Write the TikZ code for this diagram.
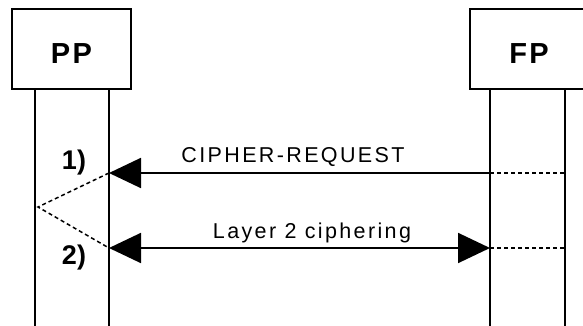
\documentclass[tikz,border=0pt]{standalone}
\usepackage{fontspec}
\setmainfont{Liberation Sans}
\usetikzlibrary{arrows.meta}
\begin{document}
\begin{tikzpicture}[x=1pt, y=-1pt,
	entity/.style={shape=rectangle, draw, line width=2pt, minimum width=119pt, minimum height=80pt, text height=30pt, text depth=0pt, font=\fontsize{29}{33}\selectfont\bfseries\addfontfeature{LetterSpace=8}},
	life/.style={line width=1.8pt},
	msg/.style={line width=1.9pt, -{Triangle[length=32pt, width=30pt]}},
	twoway/.style={line width=1.9pt, {Triangle[length=32pt, width=30pt]}-{Triangle[length=32pt, width=30pt]}},
	link/.style={line width=1.5pt, dash pattern=on 4pt off 3pt},
	msglabel/.style={anchor=base, inner sep=0pt, font=\fontsize{21.5}{25}\selectfont\addfontfeature{LetterSpace=11}},
	steplabel/.style={anchor=base, inner sep=0pt, font=\fontsize{27}{31}\selectfont\bfseries}]
	\useasboundingbox (0,0) rectangle (583,326);
	% entities and their lifelines
	\node[entity] (pp) at (71.5, 49) {PP};
	\node[entity] (fp) at (529, 49) {FP};
	\coordinate (ppA) at (35, 326);
	\coordinate (ppB) at (109, 326);
	\coordinate (fpA) at (490, 326);
	\coordinate (fpB) at (565, 326);
	\draw[life] (pp.south -| ppA) -- (ppA);
	\draw[life] (pp.south -| ppB) -- (ppB);
	\draw[life] (fp.south -| fpA) -- (fpA);
	\draw[life] (fp.south -| fpB) -- (fpB);
	% message points
	\coordinate (m1pp) at (109, 173);
	\coordinate (m1fp) at (490, 173);
	\coordinate (m1end) at (565, 173);
	\coordinate (m2pp) at (109, 248);
	\coordinate (m2fp) at (490, 248);
	\coordinate (m2end) at (565, 248);
	\coordinate (apex) at (38, 207);
	% messages
	\draw[msg] (m1fp) -- (m1pp);
	\draw[twoway] (m2pp) -- (m2fp);
	\node[msglabel] (req) at (293, 162) {CIPHER-REQUEST};
	\node[msglabel] (ciph) at (312, 238) {Layer 2 ciphering};
	\draw[link] (m1fp) -- (m1end);
	\draw[link] (m2fp) -- (m2end);
	\draw[link] (m1pp) -- (apex) -- (m2pp);
	% step numbers
	\node[steplabel] (s1) at (74, 169) {1)};
	\node[steplabel] (s2) at (74, 264) {2)};
\end{tikzpicture}
\end{document}
